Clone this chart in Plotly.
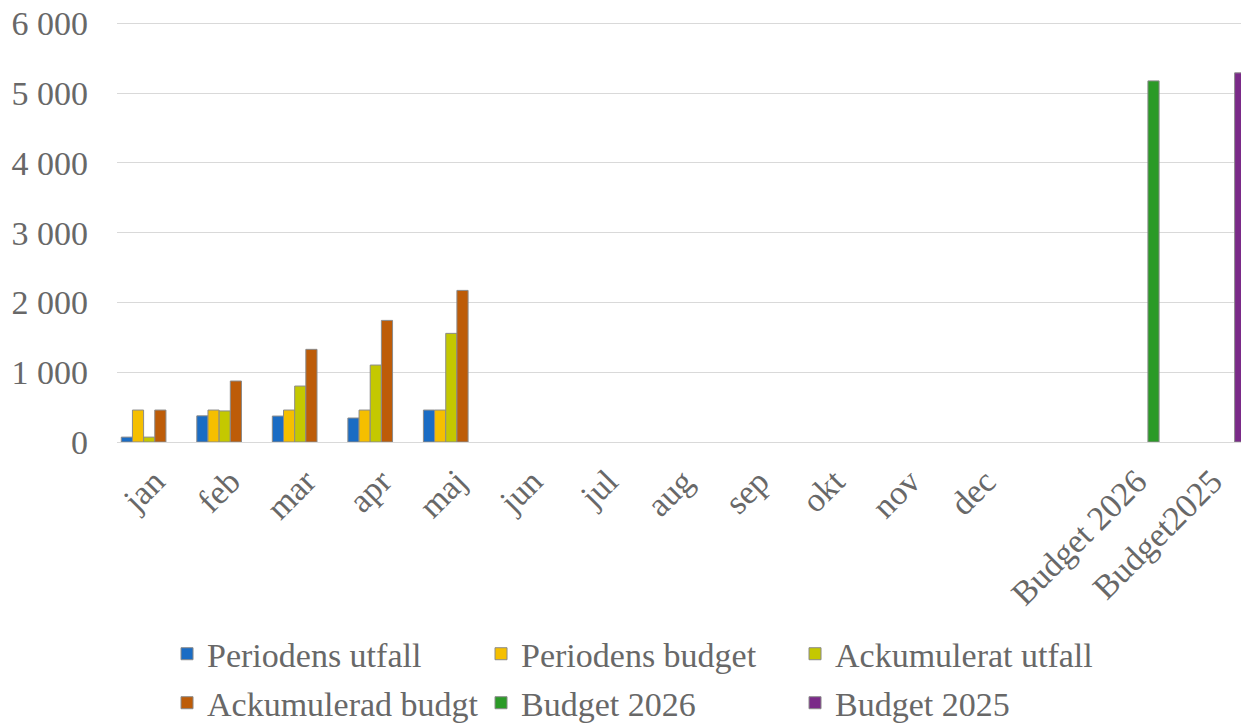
import plotly.graph_objects as go

categories = ["jan", "feb", "mar", "apr", "maj", "jun", "jul", "aug", "sep", "okt", "nov", "dec", " ", "Budget 2026", "Budget2025"]

periodens_utfall = [70, 375, 372, 344, 458, None, None, None, None, None, None, None, None, None, None]
periodens_budget = [458, 458, 458, 458, 458, None, None, None, None, None, None, None, None, None, None]
ackumulerat_utfall = [70, 445, 802, 1103, 1557, None, None, None, None, None, None, None, None, None, None]
ackumulerad_budgt = [458, 874, 1328, 1743, 2173, None, None, None, None, None, None, None, None, None, None]
budget_2026 = [None] * 13 + [5176, None]
budget_2025 = [None] * 14 + [5291]

series_names = ["Periodens utfall", "Periodens budget", "Ackumulerat utfall",
                "Ackumulerad budgt", "Budget 2026", "Budget 2025"]
series_values = [periodens_utfall, periodens_budget, ackumulerat_utfall,
                 ackumulerad_budgt, budget_2026, budget_2025]
series_colors = ["#1a6cc4", "#f5bf00", "#c4c800", "#bd5c08", "#2b9a27", "#7a2a88"]
legend_ids = ["legend", "legend", "legend", "legend2", "legend2", "legend2"]

y_tickvals = [0, 1000, 2000, 3000, 4000, 5000, 6000]
y_ticktext = ["0", "1 000", "2 000", "3 000", "4 000", "5 000", "6 000"]

FONT = "Liberation Serif"
TXT = "#686868"
FS = 34

fig = go.Figure()
for name, vals, col, lg in zip(series_names, series_values, series_colors, legend_ids):
    fig.add_trace(go.Bar(
        x=categories, y=vals, name=name, legend=lg,
        marker=dict(color=col, line=dict(color="#8a8a8a", width=1)),
    ))

legend_common = dict(
    orientation="h", xanchor="left", yanchor="middle",
    xref="paper", yref="container",
    entrywidth=269, entrywidthmode="pixels", itemclick=False,
    font=dict(family=FONT, size=FS, color=TXT), bgcolor="rgba(0,0,0,0)",
)

fig.update_layout(
    width=1241, height=726,
    margin=dict(l=117, r=0, t=22, b=284),
    paper_bgcolor="white", plot_bgcolor="white",
    barmode="group", bargap=0.113, bargroupgap=0.0,
    font=dict(family=FONT, size=FS, color=TXT),
    xaxis=dict(
        type="category", categoryorder="array", categoryarray=categories,
        range=[-0.5, 14.38], tickangle=-45, showgrid=False, automargin=False,
        showline=True, linecolor="#d9d9d9", linewidth=1,
        ticks="", ticklabelstandoff=5,
        tickfont=dict(family=FONT, size=FS, color=TXT),
    ),
    yaxis=dict(
        range=[0, 6020], tickvals=y_tickvals, ticktext=y_ticktext,
        showgrid=True, gridcolor="#d9d9d9", gridwidth=1, automargin=False,
        zeroline=False, showline=False, ticks="",
        ticklabelstandoff=28,
        tickfont=dict(family=FONT, size=FS, color=TXT),
    ),
    legend=dict(x=0.0445, y=0.099, **legend_common),
    legend2=dict(x=0.0445, y=0.0315, **legend_common),
)

fig.write_html(
    "out.html",
    config={"displayModeBar": False},
    post_script="document.body.style.margin='0';document.body.style.overflow='hidden';",
)
